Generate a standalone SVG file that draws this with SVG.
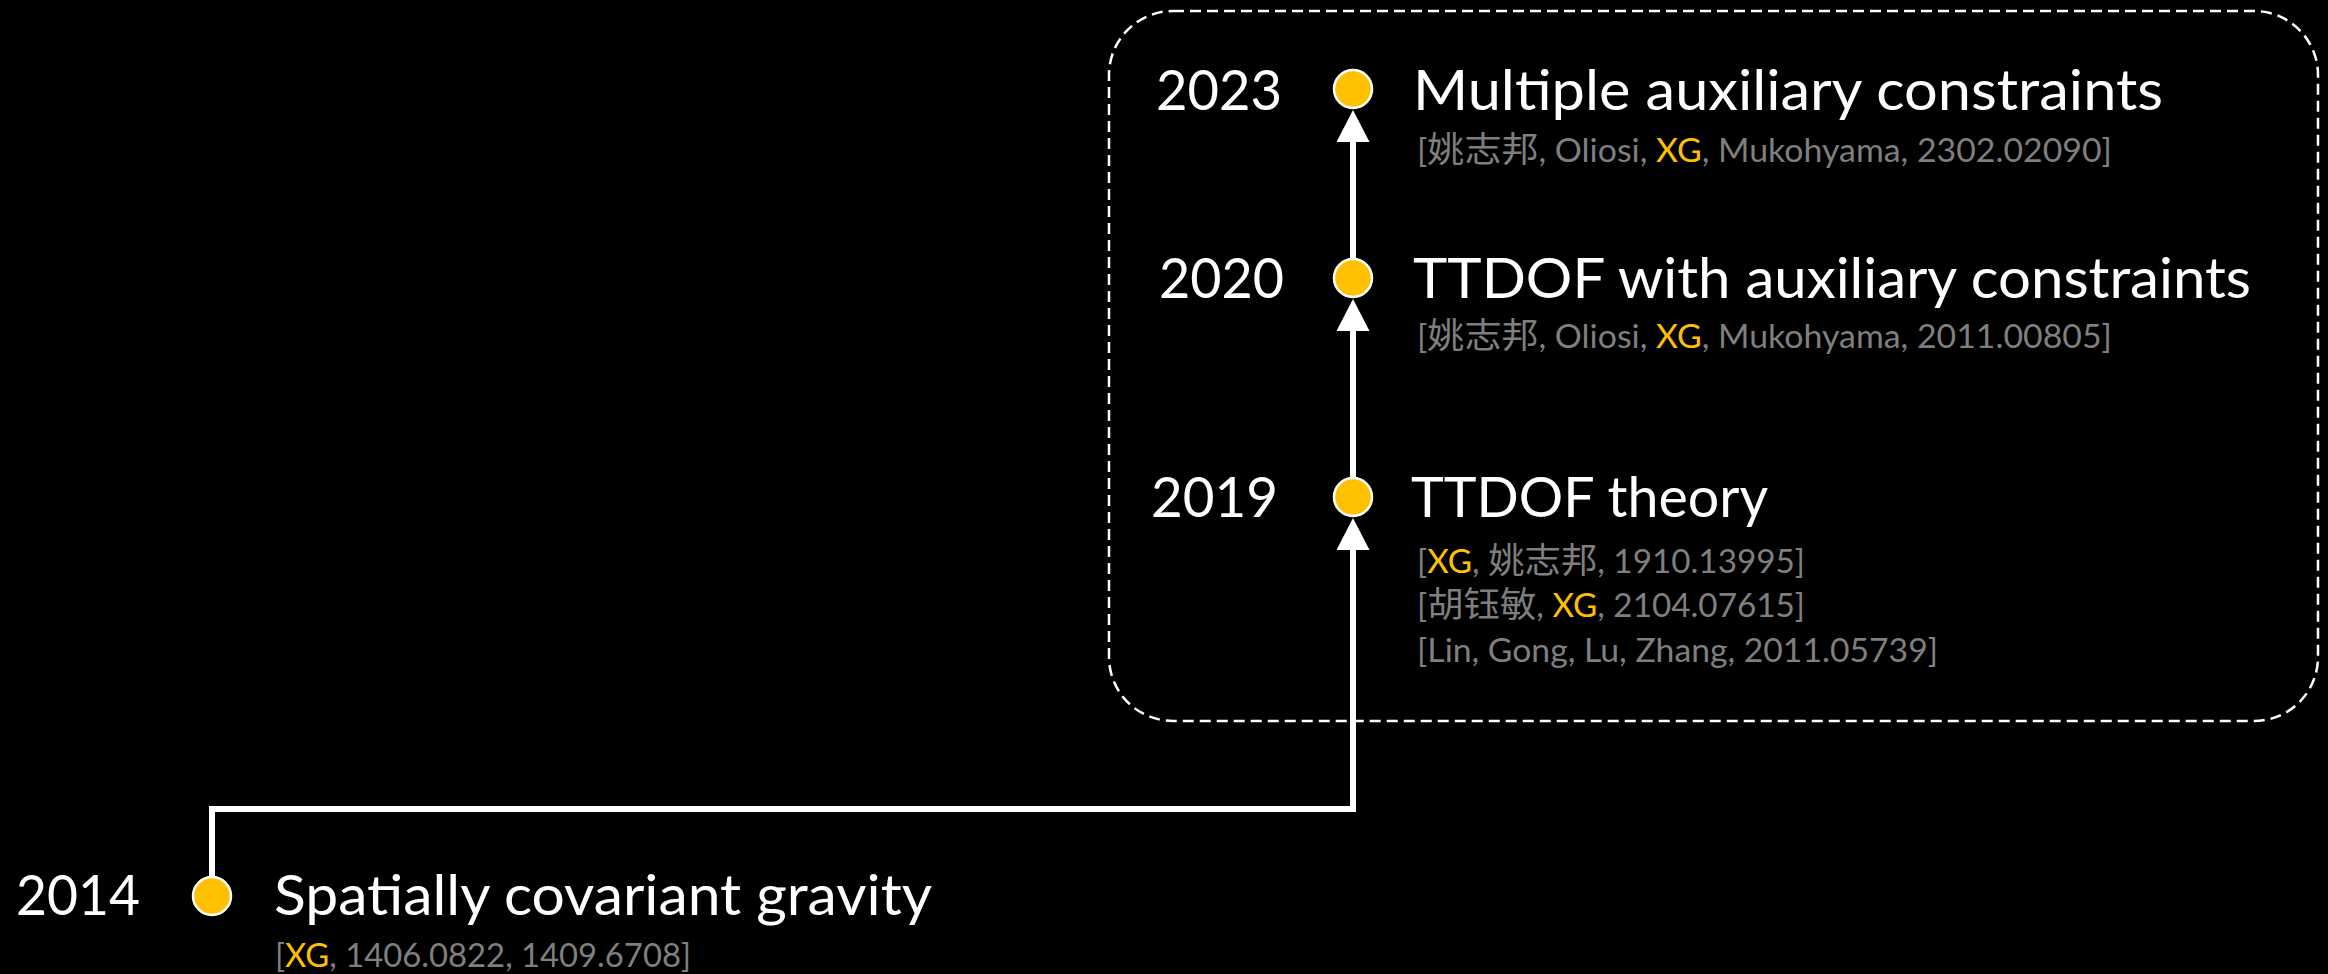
<svg xmlns="http://www.w3.org/2000/svg" width="2328" height="974" viewBox="0 0 2328 974">
<style>
text{font-family:Lato,"Noto Sans CJK SC",sans-serif}
.yr{fill:#fff;font-size:56px}
.tt{fill:#fff;font-size:56px}
.sub{fill:#7f7f7f;font-size:32px}
.cjk{font-size:35px}
.hl{fill:#ffc000}
.dot{fill:#ffc000;stroke:#fff;stroke-width:2.5}
.con{fill:none;stroke:#fff;stroke-width:6;stroke-linejoin:miter}
</style>
<defs>
<marker id="ah" markerUnits="userSpaceOnUse" viewBox="0 0 32 33" markerWidth="32" markerHeight="33" refX="12" refY="16.5" orient="auto">
<path d="M0,0 L32,16.5 L0,33 Z" fill="#fff"/>
</marker>
</defs>
<rect width="2328" height="974" fill="#000"/>
<rect id="group-box" x="1109" y="11" width="1209" height="710" rx="64" ry="64" fill="none" stroke="#fff" stroke-width="2.5" stroke-dasharray="11 6"/>
<g id="connectors">
<path class="con" d="M212 877 V809 H1353 V538" marker-end="url(#ah)"/>
<path class="con" d="M1353 478 V319" marker-end="url(#ah)"/>
<path class="con" d="M1353 259 V130" marker-end="url(#ah)"/>
</g>
<g id="node-2014">
<circle class="dot" cx="212" cy="896" r="19"/>
<text class="yr" x="16" y="915" textLength="124" lengthAdjust="spacingAndGlyphs">2014</text>
<text class="tt" x="274" y="915" textLength="658" lengthAdjust="spacingAndGlyphs">Spatially covariant gravity</text>
<text class="sub" x="275" y="967" textLength="416" lengthAdjust="spacingAndGlyphs">[<tspan class="hl">XG</tspan>, 1406.0822, 1409.6708]</text>
</g>
<g id="node-2019">
<circle class="dot" cx="1353" cy="497" r="19"/>
<text class="yr" x="1151" y="517" textLength="127" lengthAdjust="spacingAndGlyphs">2019</text>
<text class="tt" x="1411" y="517" textLength="357" lengthAdjust="spacingAndGlyphs">TTDOF theory</text>
<text class="sub" x="1417" y="573" textLength="388" lengthAdjust="spacingAndGlyphs">[<tspan class="hl">XG</tspan>, <tspan class="cjk">姚志邦</tspan>, 1910.13995]</text>
<text class="sub" x="1417" y="617" textLength="388" lengthAdjust="spacingAndGlyphs">[<tspan class="cjk">胡钰敏</tspan>, <tspan class="hl">XG</tspan>, 2104.07615]</text>
<text class="sub" x="1417" y="662" textLength="521" lengthAdjust="spacingAndGlyphs">[Lin, Gong, Lu, Zhang, 2011.05739]</text>
</g>
<g id="node-2020">
<circle class="dot" cx="1353" cy="278" r="19"/>
<text class="yr" x="1159" y="298" textLength="125" lengthAdjust="spacingAndGlyphs">2020</text>
<text class="tt" x="1413" y="298" textLength="838" lengthAdjust="spacingAndGlyphs">TTDOF with auxiliary constraints</text>
<text class="sub" x="1417" y="348" textLength="695" lengthAdjust="spacingAndGlyphs">[<tspan class="cjk">姚志邦</tspan>, Oliosi, <tspan class="hl">XG</tspan>, Mukohyama, 2011.00805]</text>
</g>
<g id="node-2023">
<circle class="dot" cx="1353" cy="89" r="19"/>
<text class="yr" x="1156" y="110" textLength="126" lengthAdjust="spacingAndGlyphs">2023</text>
<text class="tt" x="1413" y="110" textLength="750" lengthAdjust="spacingAndGlyphs">Multiple auxiliary constraints</text>
<text class="sub" x="1417" y="162" textLength="695" lengthAdjust="spacingAndGlyphs">[<tspan class="cjk">姚志邦</tspan>, Oliosi, <tspan class="hl">XG</tspan>, Mukohyama, 2302.02090]</text>
</g>
</svg>
